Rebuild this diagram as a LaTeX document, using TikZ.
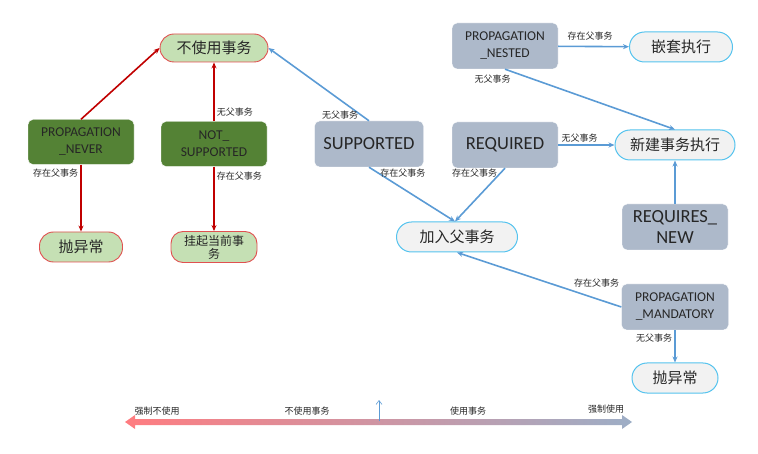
\documentclass[tikz,border=0pt]{standalone}
\usepackage{fontspec}
\setmainfont{Carlito}
\newfontfamily\cjk{Noto Sans CJK SC}
\usetikzlibrary{arrows.meta, positioning, calc}

\definecolor{pillgreen}{HTML}{C5E0B4}
\definecolor{pillred}{HTML}{E05050}
\definecolor{darkgreen}{HTML}{548235}
\definecolor{slate}{HTML}{ADB9CA}
\definecolor{pillgray}{HTML}{F2F2F2}
\definecolor{skyline}{HTML}{55C3EE}
\definecolor{arrred}{HTML}{C00000}
\definecolor{arrblue}{HTML}{5B9BD5}
\definecolor{barleft}{HTML}{FF7C80}
\definecolor{barright}{HTML}{9DAEC6}

\begin{document}
\begin{tikzpicture}[
  x=1pt, y=-1pt,
  nopill/.style   = {rectangle, rounded corners=14pt, draw=pillred, line width=0.9pt,
                     fill=pillgreen, minimum width=108pt, minimum height=28pt,
                     inner sep=1pt, align=center, text=black!85,
                     font=\cjk\fontsize{15}{17}\selectfont},
  greenbox/.style = {rectangle, rounded corners=5pt, fill=darkgreen, draw=white,
                     minimum width=106pt, minimum height=45pt, inner sep=1pt,
                     align=center, text=black!85, font=\fontsize{13.5}{17}\selectfont},
  slatebox/.style = {rectangle, rounded corners=5pt, fill=slate, draw=white,
                     minimum width=106pt, minimum height=46pt, inner sep=1pt,
                     align=center, text=black!85, font=\fontsize{13.5}{17}\selectfont},
  yespill/.style  = {rectangle, rounded corners=15pt, draw=skyline, line width=1pt,
                     fill=pillgray, minimum height=30pt, inner sep=1pt,
                     align=center, text=black!85, font=\cjk\fontsize{15}{17}\selectfont},
  lbl/.style      = {inner sep=2pt, text=black!85, font=\cjk\fontsize{9}{10}\selectfont},
  redarr/.style   = {-{Stealth[length=6pt,width=5pt]}, line width=1.6pt, arrred},
  bluearr/.style  = {-{Stealth[length=6pt,width=5pt]}, line width=1.6pt, arrblue},
]
\useasboundingbox (0,0) rectangle (758,454);

%% ── Not using a transaction (left) ───────────────────────────────
\node[nopill]   (notx)    at (214,48)  {不使用事务};
\node[greenbox] (never)   at (81,142)  {PROPAGATION\\\_NEVER};
\node[greenbox] (notsup)  at (214,144) {NOT\_\\SUPPORTED};
\node[nopill, minimum width=83pt, minimum height=30pt] (abortL) at (81,247) {抛异常};
\node[nopill, minimum width=86pt, minimum height=31pt, rounded corners=12pt,
      font=\cjk\fontsize{12}{13}\selectfont] (suspend) at (214,247) {挂起当前事\\务};

%% ── Using a transaction (right) ──────────────────────────────────
\node[slatebox, minimum width=109pt, font=\fontsize{18.5}{21}\selectfont]
      (supported) at (369,144) {SUPPORTED};
\node[slatebox, font=\fontsize{18.5}{21}\selectfont] (required) at (505,145) {REQUIRED};
\node[slatebox] (nested)    at (505,46)  {PROPAGATION\\\_NESTED};
\node[slatebox, font=\fontsize{18.5}{21}\selectfont] (reqnew) at (675,227) {REQUIRES\_\\NEW};
\node[slatebox, minimum width=107pt] (mandatory) at (675,307) {PROPAGATION\\\_MANDATORY};

\node[yespill, minimum width=103pt] (nestexec) at (681,47)  {嵌套执行};
\node[yespill, minimum width=120pt] (newtx)    at (675,145) {新建事务执行};
\node[yespill, minimum width=121pt] (join)     at (457,237) {加入父事务};
\node[yespill, minimum width=86pt]  (abortR)   at (675,378) {抛异常};

%% ── Arrows ───────────────────────────────────────────────────────
\draw[redarr] (never.north) -- (notx.west);
\draw[redarr] (notsup) -- node[lbl, pos=0.15, right]{无父事务} (notx);
\draw[redarr] (never) -- node[lbl, pos=0.12, left]{存在父事务} (abortL);
\draw[redarr] (notsup) -- node[lbl, pos=0.14, right]{存在父事务} (suspend);

\draw[bluearr] (supported.north) -- node[lbl, pos=0.08, left]{无父事务} (notx.east);
\draw[bluearr] (supported.south) -- node[lbl, pos=0.1, right]{存在父事务} ([xshift=-2pt]join.north);
\draw[bluearr] (required.south) -- node[lbl, pos=0.1, left]{存在父事务} ([xshift=-2pt]join.north);
\draw[bluearr] (required) -- node[lbl, pos=0.38, above]{无父事务} (newtx);
\draw[bluearr] (nested) -- node[lbl, pos=0.45, above=3pt]{存在父事务} (nestexec);
\draw[bluearr] (nested.south) -- node[lbl, pos=0.05, below left]{无父事务} (newtx.north);
\draw[bluearr] (reqnew) -- (newtx);
\draw[bluearr] (mandatory.west) -- node[lbl, pos=0.15, above=9pt]{存在父事务} (join.south);
\draw[bluearr] (mandatory) -- node[lbl, pos=0.25, left]{无父事务} (abortR);

%% ── Scale at the bottom ──────────────────────────────────────────
\coordinate (scaleL) at (125,422);
\coordinate (scaleR) at (632,422);
\coordinate (scaleM) at (379,421);
\coordinate (scaleTop) at (379,400);

\shade[left color=barleft, right color=barright]
  (scaleL) -- ++(10,-7) -- ++(0,4) -- ($(scaleR)+(-10,-3)$) -- ++(0,-4) -- (scaleR)
  -- ++(-10,7) -- ++(0,-4) -- ($(scaleL)+(10,3)$) -- ++(0,4) -- cycle;
\draw[-{Straight Barb[length=4pt,width=6pt]}, line width=0.6pt, arrblue] (scaleM) -- (scaleTop);

\node[lbl] (forceno)  at (157,411) {强制不使用};
\node[lbl] (notuse)   at (307,411) {不使用事务};
\node[lbl] (use)      at (468,411) {使用事务};
\node[lbl] (forceyes) at (606,409) {强制使用};

\end{tikzpicture}
\end{document}
